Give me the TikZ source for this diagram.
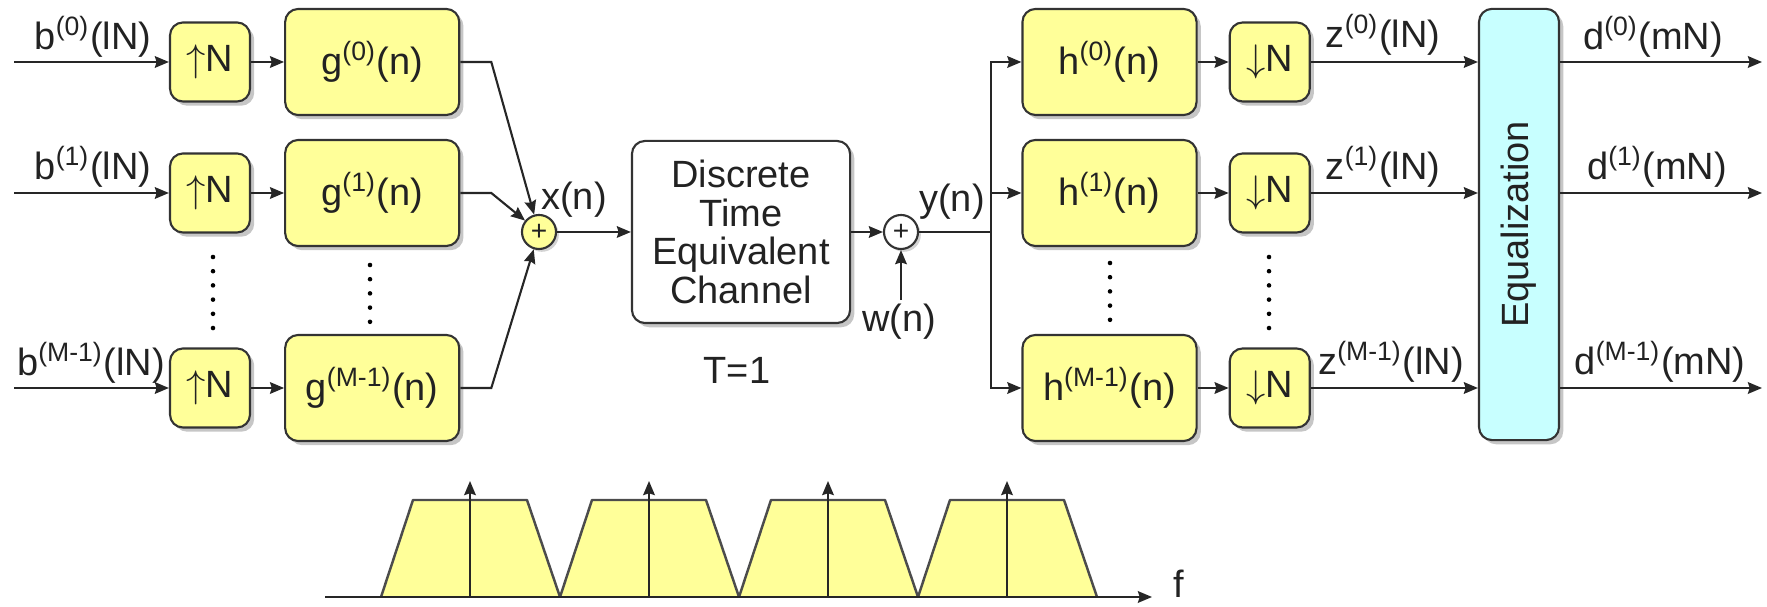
\documentclass[tikz,border=0pt]{standalone}
\usepackage{fontspec}
\setmainfont{Liberation Sans}
\usepackage{graphicx}
\usetikzlibrary{arrows.meta,positioning,calc,shadows}
\definecolor{boxyellow}{HTML}{FFFF99}
\definecolor{eqcyan}{HTML}{C8FFFF}
\definecolor{inkgray}{HTML}{222222}
\tikzset{
  sysbox/.style={
    rectangle, rounded corners=3.7pt, draw=black!80, line width=0.6pt,
    fill=boxyellow, align=center, inner sep=2pt,
    drop shadow={shadow xshift=1.2pt, shadow yshift=-1.2pt, opacity=0.45}
  },
  ratebox/.style={sysbox, minimum width=0.8cm, minimum height=0.79cm},
  filtbox/.style={sysbox, minimum width=1.74cm, minimum height=1.06cm},
  chanbox/.style={sysbox, fill=white, minimum width=2.18cm, minimum height=1.82cm,
    font=\fontsize{10.8}{11}\selectfont},
  eqbox/.style={sysbox, fill=eqcyan, minimum width=0.8cm, minimum height=4.31cm},
  adder/.style={
    circle, draw=black!80, line width=0.6pt, fill=boxyellow,
    minimum size=0.34cm, inner sep=0pt, font=\fontsize{8}{8}\selectfont,
    drop shadow={shadow xshift=0.8pt, shadow yshift=-0.8pt, opacity=0.35}
  },
  sigarrow/.style={-{Stealth[length=4pt,width=3.3pt,inset=0.5pt]}, line width=0.6pt, draw=black!85},
  sigline/.style={line width=0.6pt, draw=black!85},
  siglabel/.style={inner sep=1pt},
  dotcol/.style={line width=1.3pt, line cap=round, dash pattern=on 0pt off 4.04pt},
  band/.style={fill=boxyellow, draw=black!70, line width=0.7pt, line join=round},
}

\begin{document}
\begin{tikzpicture}[x=0.01cm, y=-0.01cm, font=\fontsize{10.8}{13}\selectfont, text=inkgray]
  \useasboundingbox (0,0) rectangle (1767,607);

  % transmitter: upsampling and synthesis filters
  \node (up0) [ratebox] at (210,62) {$\uparrow$N};
  \node (up1) [ratebox] at (210,193) {$\uparrow$N};
  \node (up2) [ratebox] at (210,388) {$\uparrow$N};
  \node (g0) [filtbox, right=0.33cm of up0] {g\textsuperscript{(0)}(n)};
  \node (g1) [filtbox, right=0.33cm of up1] {g\textsuperscript{(1)}(n)};
  \node (g2) [filtbox, right=0.33cm of up2] {g\textsuperscript{(M-1)}(n)};
  \coordinate (in0) at (14,62);
  \coordinate (in1) at (14,193);
  \coordinate (in2) at (14,388);
  \node (lb0) [siglabel] at (93,37) {b\textsuperscript{(0)}(lN)};
  \node (lb1) [siglabel] at (93,167) {b\textsuperscript{(1)}(lN)};
  \node (lb2) [siglabel] at (91,363) {b\textsuperscript{(M-1)}(lN)};
  \draw[sigarrow] (in0)--(up0); \draw[sigarrow] (up0)--(g0);
  \draw[sigarrow] (in1)--(up1); \draw[sigarrow] (up1)--(g1);
  \draw[sigarrow] (in2)--(up2); \draw[sigarrow] (up2)--(g2);
  \draw[dotcol] (213,257)--(213,329);
  \draw[dotcol] (370,265)--(370,323);

  % channel
  \node (sum) [adder] at (539,232) {+};
  \draw[sigarrow] (g0.east)--++(31,0)--(sum);
  \draw[sigarrow] (g1.east)--++(31,0)--(sum);
  \draw[sigarrow] (g2.east)--++(31,0)--(sum);
  \node (xn) [siglabel] at (574,200) {x(n)};
  \node (chan) [chanbox] at (741,232) {Discrete\\Time\\Equivalent\\Channel};
  \node (tlbl) [siglabel] at (737,370) {T=1};
  \node (add) [adder, fill=white] at (901,232) {+};
  \node (wn) [siglabel] at (899,322) {w(n)};
  \node (yn) [siglabel] at (952,202) {y(n)};
  \draw[sigarrow] (sum)--(chan); \draw[sigarrow] (chan)--(add);
  \draw[sigarrow] (wn.north -| add)--(add);

  % receiver: analysis filters and downsampling
  \coordinate (br) at (991,232);
  \node (h0) [filtbox] at (1109.5,62) {h\textsuperscript{(0)}(n)};
  \node (h1) [filtbox] at (1109.5,193) {h\textsuperscript{(1)}(n)};
  \node (h2) [filtbox] at (1109.5,388) {h\textsuperscript{(M-1)}(n)};
  \node (dn0) [ratebox, right=0.31cm of h0] {$\downarrow$N};
  \node (dn1) [ratebox, right=0.31cm of h1] {$\downarrow$N};
  \node (dn2) [ratebox, right=0.31cm of h2] {$\downarrow$N};
  \draw[sigline] (add)--(br);
  \draw[sigarrow] (br) |- (h0); \draw[sigarrow] (br) |- (h1); \draw[sigarrow] (br) |- (h2);
  \draw[sigarrow] (h0)--(dn0); \draw[sigarrow] (h1)--(dn1); \draw[sigarrow] (h2)--(dn2);
  \draw[dotcol] (1110,263)--(1110,324);
  \draw[dotcol] (1269,257)--(1269,329);

  % equalization
  \node (eq) [eqbox] at (1519,224.5) {\rotatebox{90}{Equalization}};
  \node (lz0) [siglabel] at (1383,35) {z\textsuperscript{(0)}(lN)};
  \node (lz1) [siglabel] at (1383,167) {z\textsuperscript{(1)}(lN)};
  \node (lz2) [siglabel] at (1391,362) {z\textsuperscript{(M-1)}(lN)};
  \draw[sigarrow] (dn0)--(dn0 -| eq.west);
  \draw[sigarrow] (dn1)--(dn1 -| eq.west);
  \draw[sigarrow] (dn2)--(dn2 -| eq.west);
  \coordinate (out0) at (1762,62);
  \coordinate (out1) at (1762,193);
  \coordinate (out2) at (1762,388);
  \draw[sigarrow] (eq.east |- out0)--(out0);
  \draw[sigarrow] (eq.east |- out1)--(out1);
  \draw[sigarrow] (eq.east |- out2)--(out2);
  \node (ld0) [siglabel] at (1653,37) {d\textsuperscript{(0)}(mN)};
  \node (ld1) [siglabel] at (1657,167) {d\textsuperscript{(1)}(mN)};
  \node (ld2) [siglabel] at (1660,362) {d\textsuperscript{(M-1)}(mN)};

  % spectrum
  \draw[band] (381,597)--(413,500)--(527,500)--(560,597);
  \draw[band] (560,597)--(592,500)--(706,500)--(739,597);
  \draw[band] (739,597)--(771,500)--(885,500)--(918,597);
  \draw[band] (918,597)--(950,500)--(1064,500)--(1097,597);
  \coordinate (f0) at (325,597);
  \coordinate (f1) at (1152,597);
  \draw[sigarrow] (f0)--(f1);
  \node (flbl) [anchor=south west, inner sep=0pt] at (1173,598) {f};
  \draw[sigarrow] (470,597)--(470,481);
  \draw[sigarrow] (649,597)--(649,481);
  \draw[sigarrow] (828,597)--(828,481);
  \draw[sigarrow] (1007,597)--(1007,481);
\end{tikzpicture}
\end{document}
